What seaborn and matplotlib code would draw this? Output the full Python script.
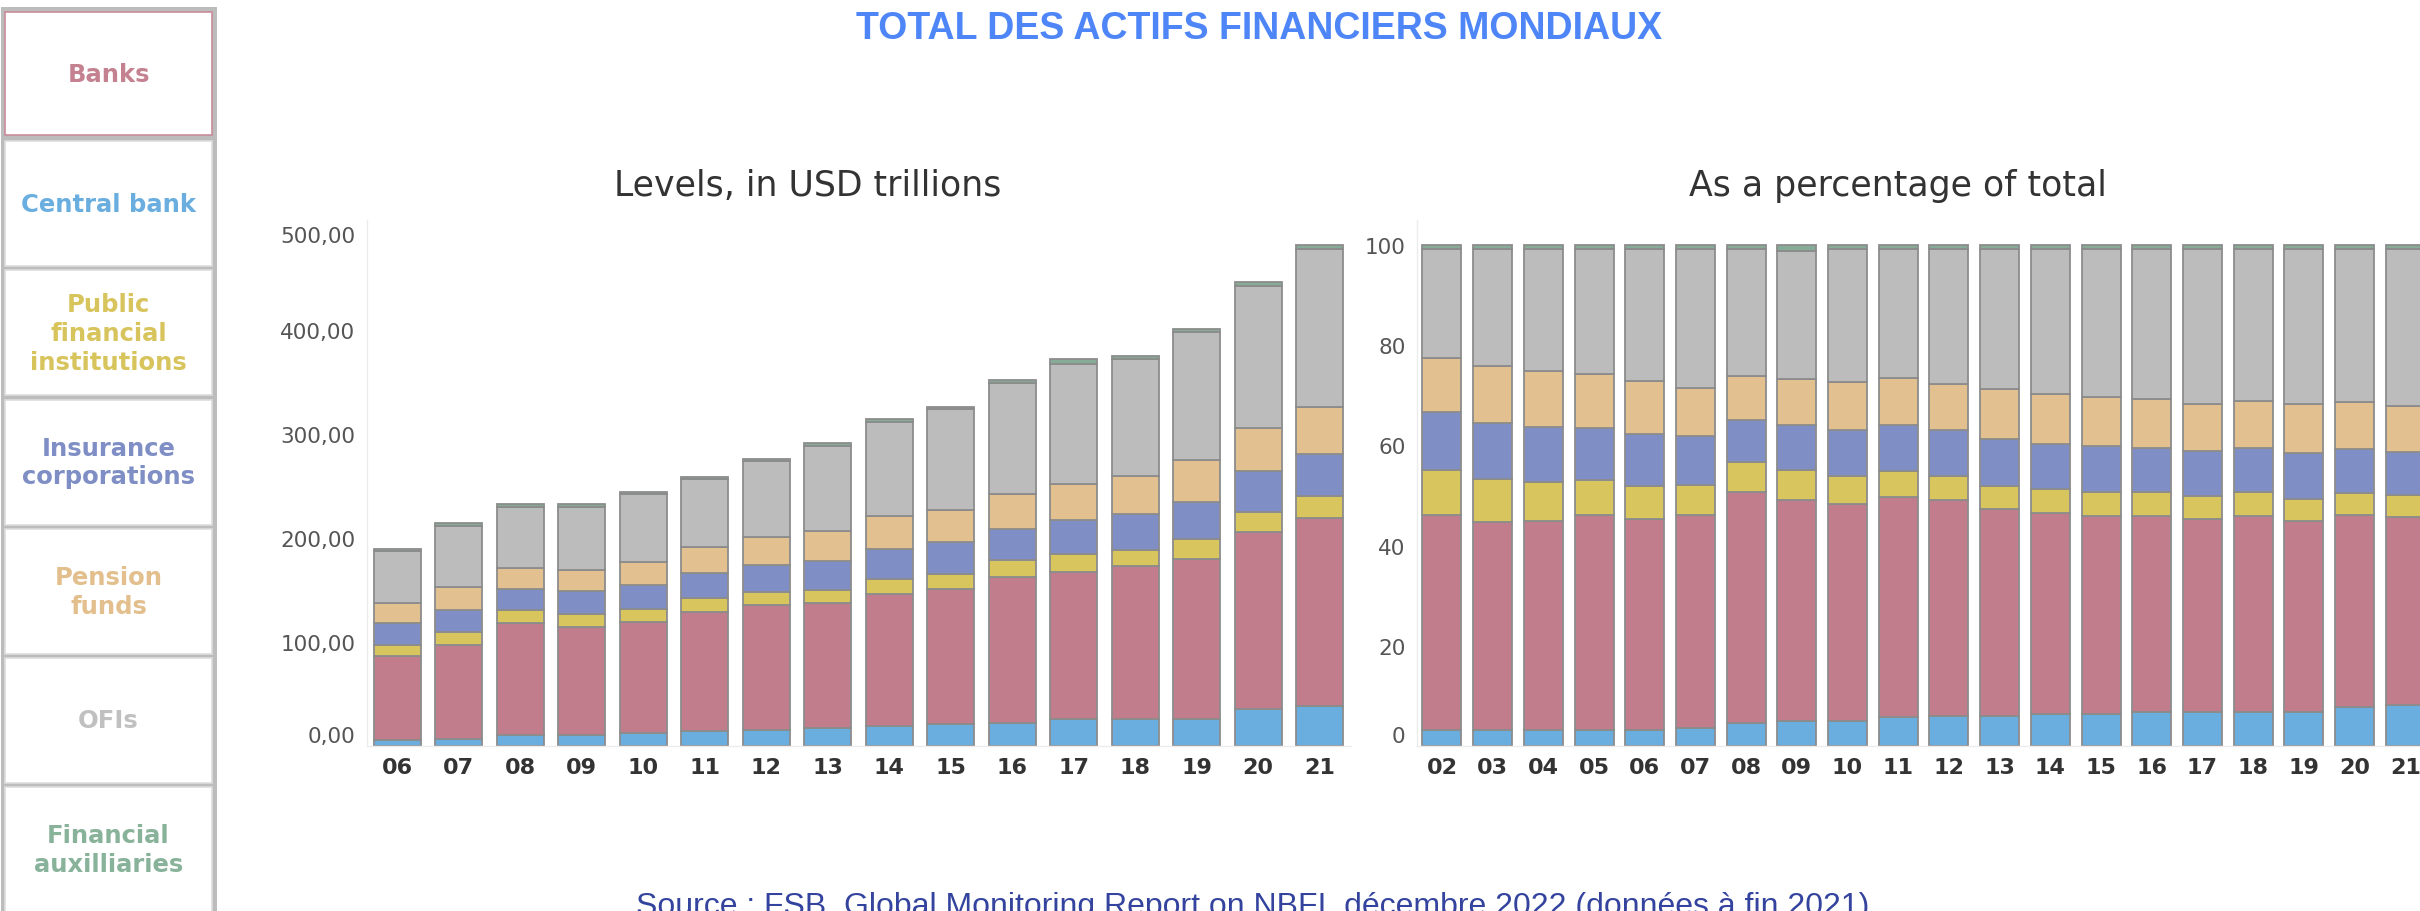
import numpy as np
import matplotlib
matplotlib.use("Agg")
import matplotlib.pyplot as plt
from matplotlib.patches import Rectangle
from matplotlib.ticker import FuncFormatter
import seaborn as sns

sns.set_style("white")
plt.rcParams["font.family"] = ["DejaVu Sans"]

# Levels, in USD trillions (2006-2021)
years_lvl = ["06", "07", "08", "09", "10", "11", "12", "13", "14", "15", "16", "17", "18", "19", "20", "21"]
central_lvl = [5.7, 6.8, 10.3, 10.3, 12.2, 14.1, 15.6, 17.1, 19.0, 20.9, 22.0, 25.5, 25.5, 25.5, 35.3, 38.8]
banks_lvl = [80.6, 90.8, 107.5, 104.5, 107.5, 115.1, 120.1, 120.5, 127.3, 130.3, 140.6, 141.7, 147.4, 153.9, 170.6, 180.5]
public_lvl = [10.6, 12.5, 12.5, 12.5, 12.5, 12.9, 12.5, 12.5, 14.1, 14.1, 16.0, 17.9, 16.0, 19.4, 19.4, 20.9]
insur_lvl = [20.9, 20.9, 20.9, 22.0, 22.4, 23.9, 25.8, 27.4, 28.9, 30.4, 30.4, 32.3, 34.2, 36.1, 38.8, 40.7]
pension_lvl = [19.8, 21.7, 19.8, 19.8, 22.8, 25.1, 26.6, 29.6, 31.9, 31.5, 33.4, 34.6, 36.1, 39.9, 41.8, 44.8]
ofi_lvl = [49.8, 59.3, 59.3, 61.2, 65.0, 65.7, 73.3, 81.7, 90.8, 96.5, 106.4, 115.5, 112.9, 123.5, 136.8, 152.0]
aux_lvl = [1.9, 2.7, 2.3, 2.3, 2.3, 2.3, 2.3, 2.3, 2.3, 2.3, 2.7, 4.2, 2.7, 3.0, 3.8, 3.8]

# As a percentage of total (2002-2021)
years_pct = ["02", "03", "04", "05", "06", "07", "08", "09", "10", "11",
             "12", "13", "14", "15", "16", "17", "18", "19", "20", "21"]
central_pct = [3.2, 3.2, 3.2, 3.2, 3.2, 3.6, 4.6, 5.0, 5.0, 5.7, 5.9, 5.9, 6.3, 6.3, 6.7, 6.7, 6.7, 6.7, 7.8, 8.1]
banks_pct = [42.9, 41.5, 41.8, 42.9, 42.2, 42.5, 46.2, 44.2, 43.4, 44.1, 43.3, 41.5, 40.3, 39.7, 39.3, 38.6, 39.3, 38.3, 38.3, 37.6]
public_pct = [8.9, 8.5, 7.6, 6.9, 6.5, 6.0, 5.8, 5.8, 5.5, 5.1, 4.7, 4.6, 4.7, 4.7, 4.7, 4.7, 4.7, 4.4, 4.4, 4.4]
insur_pct = [11.6, 11.2, 11.1, 10.5, 10.3, 9.7, 8.5, 9.1, 9.1, 9.1, 9.1, 9.3, 8.9, 9.2, 8.8, 8.9, 8.8, 9.1, 8.7, 8.5]
pension_pct = [10.8, 11.4, 11.1, 10.7, 10.7, 9.7, 8.7, 9.1, 9.7, 9.5, 9.3, 10.0, 10.0, 9.7, 9.7, 9.3, 9.3, 9.7, 9.4, 9.3]
ofi_pct = [21.8, 23.4, 24.4, 25.0, 26.3, 27.7, 25.4, 25.6, 26.5, 25.7, 26.9, 27.9, 29.0, 29.6, 30.0, 31.0, 30.4, 31.0, 30.6, 31.3]
aux_pct = [0.8, 0.8, 0.8, 0.8, 0.8, 0.8, 0.8, 1.2, 0.8, 0.8, 0.8, 0.8, 0.8, 0.8, 0.8, 0.8, 0.8, 0.8, 0.8, 0.8]

# legend panel (left)
legend_labels = ["Banks", "Central bank", "Public\nfinancial\ninstitutions", "Insurance\ncorporations",
                 "Pension\nfunds", "OFIs", "Financial\nauxilliaries"]
legend_colors = ["#c4818f", "#6aaee0", "#d8c45c", "#7f8ec4", "#e2bf8c", "#c0c0c0", "#88b39a"]

# bar colors (bottom -> top)
C_CENTRAL = "#6aaee0"
C_BANKS = "#c17d8c"
C_PUBLIC = "#d9c55d"
C_INSUR = "#7f8ec4"
C_PENSION = "#e2c08f"
C_OFI = "#bcbcbc"
C_AUX = "#86ab96"
EDGE = "#8c8c8c"

W, H = 2420, 912
fig = plt.figure(figsize=(W / 100, H / 100), dpi=100, facecolor="white")


def stacked(ax, years, series):
    bottom = np.zeros(len(years))
    for vals, col in series:
        sns.barplot(x=years, y=vals, bottom=bottom, color=col, saturation=1,
                    edgecolor=EDGE, linewidth=1.3, width=0.77, errorbar=None, ax=ax)
        bottom = bottom + np.array(vals)


def style_axes(ax, n, ymax, yticks, fmt, top_shift):
    ax.set_xlim(-0.5, n - 0.5)
    ax.set_ylim(0, ymax)
    ax.set_xlabel("")
    ax.set_ylabel("")
    ax.set_yticks(yticks)
    ax.yaxis.set_major_formatter(FuncFormatter(fmt))
    ax.set_xticks(np.arange(n + 1) - 0.5, minor=True)
    ax.tick_params(axis="x", which="major", length=0, pad=8, labelsize=16, labelcolor="#333333")
    ax.tick_params(axis="x", which="minor", length=8, width=1, color="#e6e6e6")
    ax.tick_params(axis="y", length=5, width=1, color="#e6e6e6", pad=3, labelsize=15.5, labelcolor="#555555")
    for lbl in ax.get_xticklabels():
        lbl.set_fontweight("bold")
    for s in ["top", "right"]:
        ax.spines[s].set_visible(False)
    for s in ["left", "bottom"]:
        ax.spines[s].set_color("#ececec")
        ax.spines[s].set_linewidth(1)
    ticks = ax.yaxis.get_major_ticks()
    ticks[0].label1.set_verticalalignment("bottom")
    if top_shift:
        ticks[-1].label1.set_verticalalignment("top")
    ax.set_facecolor("white")


# left chart: levels
ax1 = fig.add_axes([366.5 / W, (H - 747) / H, 984 / W, 526 / H])
stacked(ax1, years_lvl, [(central_lvl, C_CENTRAL), (banks_lvl, C_BANKS), (public_lvl, C_PUBLIC),
                         (insur_lvl, C_INSUR), (pension_lvl, C_PENSION), (ofi_lvl, C_OFI), (aux_lvl, C_AUX)])
style_axes(ax1, len(years_lvl), 505.8, [0, 100, 200, 300, 400, 500],
           lambda v, p: f"{v:.2f}".replace(".", ","), True)

# right chart: percentages
ax2 = fig.add_axes([1416.6 / W, (H - 747) / H, 1014 / W, 526 / H])
stacked(ax2, years_pct, [(central_pct, C_CENTRAL), (banks_pct, C_BANKS), (public_pct, C_PUBLIC),
                         (insur_pct, C_INSUR), (pension_pct, C_PENSION), (ofi_pct, C_OFI), (aux_pct, C_AUX)])
style_axes(ax2, len(years_pct), 105, [0, 20, 40, 60, 80, 100],
           lambda v, p: f"{v:.0f}", False)

# titles
fig.text(1259 / W, 1 - 29 / H, "TOTAL DES ACTIFS FINANCIERS MONDIAUX", ha="center", va="center",
         fontsize=27, fontweight="bold", color="#4f86f7", family="Liberation Sans")
fig.text(808 / W, 1 - 186 / H, "Levels, in USD trillions", ha="center", va="center",
         fontsize=25, color="#333333")
fig.text(1898 / W, 1 - 186 / H, "As a percentage of total", ha="center", va="center",
         fontsize=25, color="#333333")
fig.text(1253 / W, 1 - 892 / H,
         "Source : FSB, Global Monitoring Report on NBFI, décembre 2022 (données à fin 2021)",
         ha="center", va="top", fontsize=23, color="#34449e", family="Liberation Sans")

# legend panel
fig.add_artist(Rectangle((1 / W, 0), 216 / W, 1 - 8 / H, transform=fig.transFigure,
                         facecolor="#bcbcbc", edgecolor="none"))
for i, (lab, col) in enumerate(zip(legend_labels, legend_colors)):
    top = 13 + 129.2 * i
    h = 123 if i == 0 else 125
    ec = "#c98b9a" if i == 0 else "#dddddd"
    fig.add_artist(Rectangle((5 / W, 1 - (top + h) / H), 207 / W, h / H, transform=fig.transFigure,
                             facecolor="white", edgecolor=ec, linewidth=1.2))
    fig.text(108.5 / W, 1 - (top + h / 2) / H, lab, ha="center", va="center", fontsize=17.5,
             fontweight="bold", color=col, linespacing=1.25)

fig.savefig("out.png", dpi=100, facecolor="white")
